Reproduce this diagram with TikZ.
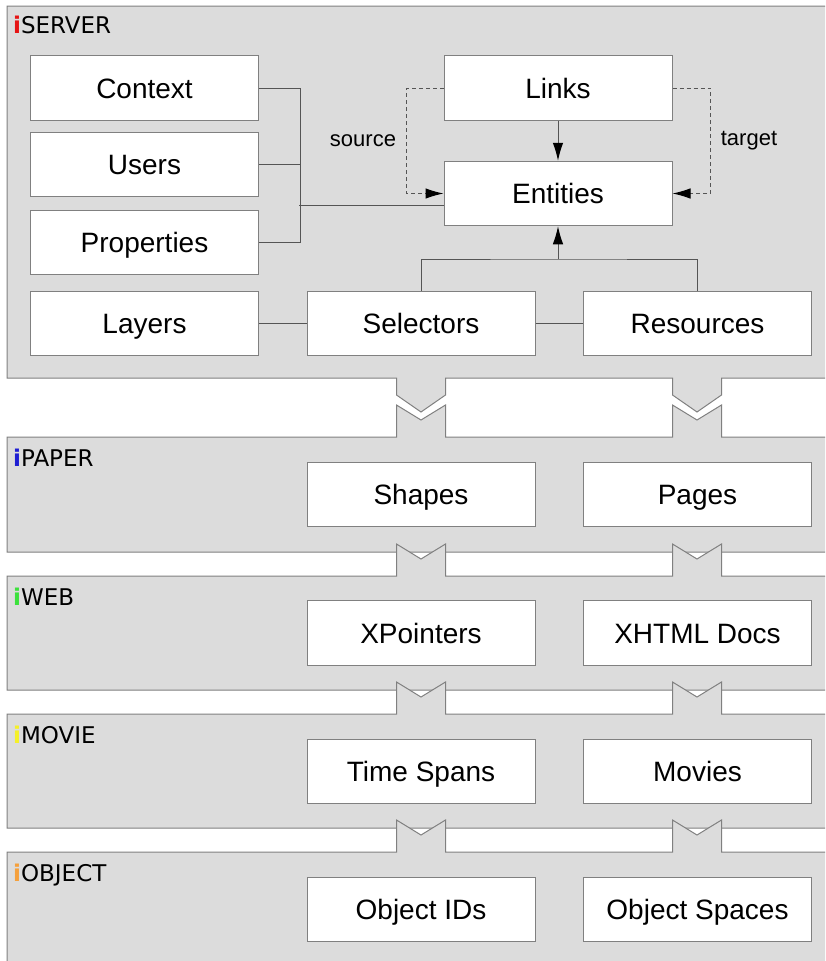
\documentclass[tikz,border=0pt]{standalone}
\usepackage{fontspec}
\setmainfont{Liberation Sans}
\newfontfamily\labelfont{DejaVu Sans}
\usetikzlibrary{arrows.meta}
\definecolor{layergray}{RGB}{220,220,220}
\definecolor{edgegray}{RGB}{128,128,128}
\definecolor{linegray}{RGB}{85,85,85}
\definecolor{iserver}{RGB}{230,20,20}
\definecolor{ipaper}{RGB}{30,30,210}
\definecolor{iweb}{RGB}{60,225,60}
\definecolor{imovie}{RGB}{245,240,40}
\definecolor{iobject}{RGB}{245,160,60}

\begin{document}
\begin{tikzpicture}[x=1pt, y=-1pt, >={Latex[length=18pt,width=10.5pt,color=black]}]
    \tikzstyle{layer}=[fill=layergray,draw=edgegray,line width=1pt]
    \tikzstyle{box}=[rectangle,draw=edgegray,fill=white,line width=1pt,minimum width=228pt,minimum height=64.5pt,inner sep=0pt,text height=20pt,text depth=0pt,font=\fontsize{28}{32}\selectfont]
    \tikzstyle{title}=[anchor=base west,inner sep=0pt,font=\labelfont\fontsize{23}{26}\selectfont]
    \tikzstyle{conn}=[draw=linegray,line width=1pt]
    \tikzstyle{dashconn}=[conn,dash pattern=on 4pt off 3pt]
    \clip (0,0) rectangle (825,961);

    % server layer, with its two plugs
    \draw[layer] (7,6) -- (840,6) -- (840,378) -- (721.5,378) -- (721.5,395) -- (697,412) -- (672.5,395) -- (672.5,378)
        -- (445.5,378) -- (445.5,395) -- (421,412) -- (396.5,395) -- (396.5,378) -- (7,378) -- cycle;
    \node[title] (server) at (13,33) {\textcolor{iserver}{\bfseries i}SERVER};

    % plug-in layers
    \foreach \t/\h/\name/\col in {437/115/PAPER/ipaper, 576/114/WEB/iweb, 714/114/MOVIE/imovie, 852/140/OBJECT/iobject} {
        \draw[layer] (7,\t) -- (396.5,\t) -- (396.5,\t-32) -- (421,\t-17) -- (445.5,\t-32) -- (445.5,\t)
            -- (672.5,\t) -- (672.5,\t-32) -- (697,\t-17) -- (721.5,\t-32) -- (721.5,\t)
            -- (840,\t) -- (840,\t+\h) -- (7,\t+\h) -- cycle;
        \node[title] (title\name) at (13,\t+29) {\textcolor{\col}{\bfseries i}\name};
    }

    \node[box] (context) at (144.5,88) {Context};
    \node[box] (users) at (144.5,164.5) {Users};
    \node[box] (properties) at (144.5,242.5) {Properties};
    \node[box] (layers) at (144.5,323.5) {Layers};
    \node[box] (links) at (558,88) {Links};
    \node[box] (entities) at (558,193.5) {Entities};
    \node[box] (selectors) at (421,323.5) {Selectors};
    \node[box] (resources) at (697.5,323.5) {Resources};

    \node[box] (shapes) at (421,494.5) {Shapes};
    \node[box] (pages) at (697.5,494.5) {Pages};
    \node[box] (xpointers) at (421,633) {XPointers};
    \node[box] (xhtml) at (697.5,633) {XHTML Docs};
    \node[box] (timespans) at (421,771.5) {Time Spans};
    \node[box] (movies) at (697.5,771.5) {Movies};
    \node[box] (objectids) at (421,909.5) {Object IDs};
    \node[box] (objectspaces) at (697.5,909.5) {Object Spaces};

    \node[font=\fontsize{22}{26}\selectfont] (source) at (363,141) {source};
    \node[font=\fontsize{22}{26}\selectfont] (target) at (749,141) {target};

    \coordinate (join) at (299,205);
    \coordinate (fork) at (558,259);
    \draw[conn] (context.east) -- ++(41,0) |- (properties.east);
    \draw[conn] (users.east) -- ++(41,0);
    \draw[conn] (join) -- (join -| entities.west);
    \draw[conn,->] (links) -- (entities);
    \draw[dashconn,->] (links.west) -- ++(-37,0) |- (entities.west);
    \draw[dashconn,->] (links.east) -- ++(38,0) |- (entities.east);
    \draw[conn] (layers) -- (selectors);
    \draw[conn] (selectors) -- (resources);
    \draw[conn] (selectors.north) |- (fork) -| (resources.north);
    \draw[conn,->] (fork) -- (entities.south);
  \end{tikzpicture}
\end{document}
